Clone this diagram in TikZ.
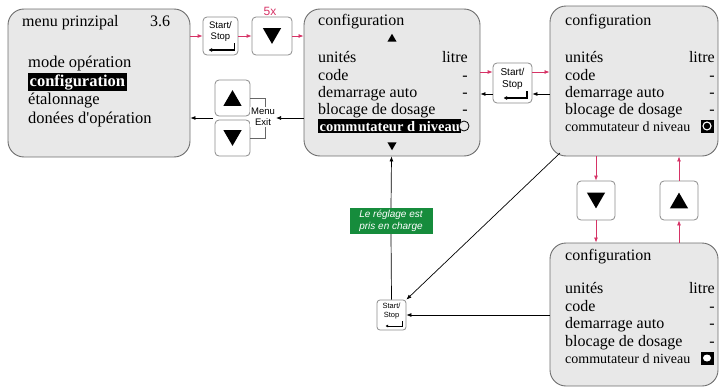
\documentclass[tikz,border=0pt]{standalone}
\usepackage{fontspec}
\setmainfont{Liberation Serif}
\newfontfamily\keyfont{Liberation Sans}
\usetikzlibrary{arrows.meta,shapes.geometric,calc}
\definecolor{panelgray}{RGB}{232,232,232}
\definecolor{panelborder}{RGB}{110,110,110}
\definecolor{keyborder}{RGB}{140,140,140}
\definecolor{redarr}{RGB}{214,51,102}
\definecolor{greenlbl}{RGB}{22,140,60}
\begin{document}
\begin{tikzpicture}[x=1pt,y=-1pt,
 panel/.style={draw=panelborder, line width=0.9pt, fill=panelgray, rounded corners=16pt, inner sep=0pt},
 keybox/.style={draw=keyborder, line width=0.8pt, fill=white, rounded corners=4pt, inner sep=0pt},
 txt/.style={anchor=base west, inner sep=0pt, font=\fontsize{16}{18}\selectfont},
 rtxt/.style={anchor=base east, inner sep=0pt, font=\fontsize{16}{18}\selectfont},
 smalltxt/.style={anchor=base west, inner sep=0pt, font=\fontsize{14}{16}\selectfont},
 hl/.style={anchor=base west, fill=black, text=white, inner sep=1.5pt, font=\bfseries\fontsize{16.5}{18}\selectfont},
 tri/.style={regular polygon, regular polygon sides=3, fill=black, inner sep=0pt, minimum size=21pt},
 smalltri/.style={regular polygon, regular polygon sides=3, fill=black, inner sep=0pt, minimum size=10.5pt},
 keytxt/.style={align=center, inner sep=0pt, font=\keyfont\fontsize{9.5}{11}\selectfont},
 retarrow/.style={draw=black, line width=1.3pt, -{Latex[length=3.5pt,width=4pt]}},
 redarrow/.style={draw=redarr, line width=0.8pt, -{Latex[length=5pt,width=4pt]}},
 blkarrow/.style={draw=black, line width=0.7pt, -{Latex[length=5pt,width=4pt]}},
]
\useasboundingbox (0,0) rectangle (720,388);

% ---------- panels ----------
\node[panel, minimum width=182pt, minimum height=148pt] (p0) at (99,83) {};
\node[panel, minimum width=176pt, minimum height=147pt] (c1) at (392,82.5) {};
\node[panel, minimum width=168pt, minimum height=150pt] (c2) at (634,81) {};
\node[panel, minimum width=168pt, minimum height=143pt] (c3) at (634,314.5) {};

% ---------- main menu text ----------
\node[txt] (p0a) at (22,26) {menu prinzipal};
\node[txt] (p0b) at (150,26) {3.6};
\node[txt, font=\fontsize{16.5}{18}\selectfont] (p0c) at (28,67) {mode opération};
\node[hl] (p0d) at (28,86) {configuration};
\node[txt, font=\fontsize{16.5}{18}\selectfont] (p0e) at (28,104) {étalonnage};
\node[txt, font=\fontsize{16.5}{18}\selectfont] (p0f) at (28,123) {donées d\textquotesingle opération};

% ---------- config panel 1 ----------
\node[txt] (c1a) at (318,25) {configuration};
\node[smalltri] (c1up) at (392,39) {};
\node[txt] (c1b) at (318,62) {unités};
\node[rtxt] (c1bv) at (468,62) {litre};
\node[txt] (c1c) at (318,80) {code};
\node[rtxt] (c1cv) at (468,80) {-};
\node[txt] (c1d) at (318,97) {demarrage auto};
\node[rtxt] (c1dv) at (468,97) {-};
\node[txt] (c1e) at (318,114) {blocage de dosage};
\node[rtxt] (c1ev) at (468,114) {-};
\node[hl, font=\bfseries\fontsize{14.5}{16}\selectfont] (c1f) at (318,131) {commutateur d niveau};
\node[circle, draw=black, fill=panelgray, line width=0.8pt, minimum size=10pt, inner sep=0pt] (c1o) at (464,126) {};
\node[smalltri, shape border rotate=180] (c1dn) at (392,145) {};

% ---------- config panel 2 ----------
\node[txt] (c2a) at (565,25) {configuration};
\node[txt] (c2b) at (565,62) {unités};
\node[rtxt] (c2bv) at (715,62) {litre};
\node[txt] (c2c) at (565,80) {code};
\node[rtxt] (c2cv) at (715,80) {-};
\node[txt] (c2d) at (565,97) {demarrage auto};
\node[rtxt] (c2dv) at (715,97) {-};
\node[txt] (c2e) at (565,114) {blocage de dosage};
\node[rtxt] (c2ev) at (715,114) {-};
\node[smalltxt] (c2f) at (565,131) {commutateur d niveau};
\node[fill=black, minimum size=13pt, inner sep=0pt] (c2sq) at (707,126) {};
\node[circle, draw=white, line width=1.1pt, minimum size=8pt, inner sep=0pt] (c2o) at (c2sq.center) {};

% ---------- config panel 3 ----------
\node[txt] (c3a) at (565,260) {configuration};
\node[txt] (c3b) at (565,293) {unités};
\node[rtxt] (c3bv) at (715,293) {litre};
\node[txt] (c3c) at (565,311) {code};
\node[rtxt] (c3cv) at (715,311) {-};
\node[txt] (c3d) at (565,328) {demarrage auto};
\node[rtxt] (c3dv) at (715,328) {-};
\node[txt] (c3e) at (565,346) {blocage de dosage};
\node[rtxt] (c3ev) at (715,346) {-};
\node[smalltxt] (c3f) at (565,363) {commutateur d niveau};
\node[fill=black, minimum size=13pt, inner sep=0pt] (c3sq) at (707,358) {};
\node[ellipse, fill=white, minimum width=8pt, minimum height=7pt, inner sep=0pt] (c3o) at (c3sq.center) {};

% ---------- keys ----------
% Start/Stop key 1
\node[keybox, minimum width=35pt, minimum height=38pt] (k1) at (220.5,36) {};
\node[keytxt] (k1t) at ($(k1.center)+(0,-4)$) {Start/\\Stop};
\draw[retarrow] ($(k1.center)+(14,7)$) -- ($(k1.center)+(14,14)$) -- ($(k1.center)+(-12,14)$);
% down key (5x)
\node[keybox, minimum width=40pt, minimum height=38pt] (k2) at (272,36) {};
\node[tri, shape border rotate=180] (k2t) at ($(k2.center)+(0,-2.6)$) {};
\node[text=redarr, font=\keyfont\fontsize{12}{14}\selectfont, inner sep=0pt] (five) at (270,11) {5x};
% up / down keys (menu exit)
\node[keybox, minimum width=35pt, minimum height=36pt] (ku) at (232.5,98) {};
\node[tri] (kut) at ($(ku.center)+(0,2.6)$) {};
\node[keybox, minimum width=35pt, minimum height=36pt] (kd) at (232.5,138) {};
\node[tri, shape border rotate=180] (kdt) at ($(kd.center)+(0,-2.6)$) {};
\draw[line width=0.6pt, draw=black!60] (ku.east |- 0,98) -- (265,98) -- (265,138) -- (kd.east |- 0,138);
\node[fill=white, keytxt, inner sep=1pt] (mx) at (263,117) {Menu\\Exit};
% Start/Stop key 2
\node[keybox, minimum width=39pt, minimum height=40pt] (k3) at (512.5,83) {};
\node[keytxt, font=\keyfont\fontsize{10}{12}\selectfont] (k3t) at ($(k3.center)+(0,-4)$) {Start/\\Stop};
\draw[retarrow] ($(k3.center)+(14.5,8)$) -- ($(k3.center)+(14.5,15)$) -- ($(k3.center)+(-9,15)$);
% down / up keys right
\node[keybox, minimum width=38pt, minimum height=39pt] (kd2) at (596,200.5) {};
\node[tri, shape border rotate=180] (kd2t) at ($(kd2.center)+(0,-2.6)$) {};
\node[keybox, minimum width=38pt, minimum height=39pt] (ku2) at (679,200.5) {};
\node[tri] (ku2t) at ($(ku2.center)+(0,2.6)$) {};
% small Start/Stop key
\node[keybox, minimum width=29pt, minimum height=30pt, rounded corners=3pt] (k4) at (391.5,315) {};
\node[keytxt, font=\keyfont\fontsize{7.5}{9}\selectfont] (k4t) at ($(k4.center)+(0,-4)$) {Start/\\Stop};
\draw[retarrow, line width=1pt, -{Latex[length=2.5pt,width=3pt]}] ($(k4.center)+(11,6)$) -- ($(k4.center)+(11,11)$) -- ($(k4.center)+(-6,11)$);

% ---------- green label ----------
\node[fill=greenlbl, text=white, font=\keyfont\itshape\fontsize{10}{12}\selectfont, align=center, minimum width=83pt, minimum height=26pt, inner sep=1pt] (gl) at (391,221) {Le réglage est\\pris en charge};

% ---------- connectors ----------
\draw[redarrow] (p0.east |- k1.west) -- (k1.west);
\draw[redarrow] (k1.east) -- (k2.west);
\draw[redarrow] (k2.east) -- (c1.west |- k2.east);
\draw[redarrow] (c1.east |- 0,72) -- (k3.west |- 0,72);
\draw[redarrow] (k3.east |- 0,72) -- (c2.west |- 0,72);
\draw[blkarrow] (c2.west |- 0,94) -- (k3.east |- 0,94);
\draw[blkarrow] (k3.west |- 0,94) -- (c1.east |- 0,94);
\draw[blkarrow] (c1.west |- 0,118) -- (mx.east |- 0,118);
\draw[blkarrow] (213,118) -- (p0.east |- 0,118);
\draw[redarrow] (c2.south -| kd2.north) -- (kd2.north);
\draw[redarrow] (kd2.south) -- (c3.north -| kd2.south);
\draw[redarrow] (c3.north -| ku2.south) -- (ku2.south);
\draw[redarrow] (ku2.north) -- (c2.south -| ku2.north);
\coordinate (d0) at (560,153);
\draw[blkarrow] (d0) -- (k4.north east);
\draw[blkarrow] (c3.west |- k4.east) -- (k4.east);
\draw[line width=0.7pt] (k4.north) -- (gl.south);
\draw[blkarrow] (gl.north) -- (c1.south -| k4.north);
\end{tikzpicture}
\end{document}
